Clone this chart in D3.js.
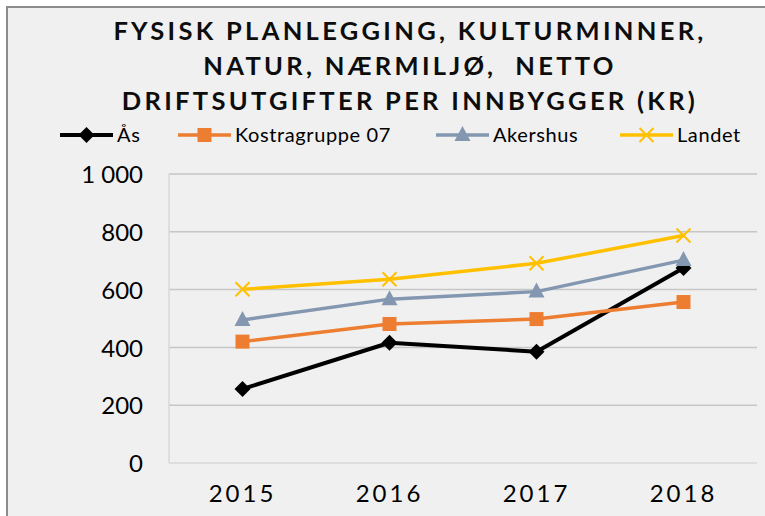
<!DOCTYPE html>
<html>
<head>
<meta charset="utf-8">
<script src="https://d3js.org/d3.v7.min.js"></script>
<style>
  body { margin: 0; background: #fff; }
</style>
</head>
<body>
<div id="chart"></div>
<script>
let years = ["2015", "2016", "2017", "2018"];
let seriesNames = ["Ås", "Kostragruppe 07", "Akershus", "Landet"];
let aas      = [256, 416, 385, 675];
let kostra   = [420, 481, 498, 557];
let akershus = [495, 567, 593, 702];
let landet   = [601, 636, 691, 787];
let yTicks = [0, 200, 400, 600, 800, 1000];
let titleLines = ["FYSISK PLANLEGGING, KULTURMINNER,", "NATUR, NÆRMILJØ,  NETTO", "DRIFTSUTGIFTER PER INNBYGGER (KR)"];

let colors = ["#000000", "#ED7D31", "#8497B0", "#FFC000"];
let markers = ["diamond", "square", "triangle", "cross"];
let values = [aas, kostra, akershus, landet];

let svgWidth = 765, svgHeight = 516;
let margin = {top: 174, left: 169, right: 8, bottom: 53};

let svg = d3.select("#chart").append("svg")
    .attr("width", svgWidth)
    .attr("height", svgHeight)
    .style("font-family", "Lato, 'Open Sans', sans-serif");

// chart area frame
svg.append("rect")
    .attr("x", 7).attr("y", 7)
    .attr("width", 800).attr("height", 600)
    .attr("fill", "#f0f0f0")
    .attr("stroke", "#8c8c8c")
    .attr("stroke-width", 2);

let x = d3.scaleBand().domain(years).range([margin.left, svgWidth - margin.right]);
let y = d3.scaleLinear().domain([0, 1000]).range([svgHeight - margin.bottom, margin.top]);

// gridlines
svg.append("g").selectAll("line")
    .data(yTicks)
    .enter().append("line")
    .attr("x1", margin.left).attr("x2", svgWidth - margin.right)
    .attr("y1", d => y(d)).attr("y2", d => y(d))
    .attr("stroke", d => d === 0 ? "#d9d9d9" : "#c6c6c6")
    .attr("stroke-width", 1.5);

svg.append("line")
    .attr("x1", margin.left).attr("x2", margin.left)
    .attr("y1", y(1000)).attr("y2", y(0))
    .attr("stroke", "#d9d9d9").attr("stroke-width", 1.5);

// y axis labels
let fmt = d => d3.format(",")(d).replace(",", " ");
let yAxis = d3.axisLeft(y).tickValues(yTicks).tickFormat(fmt).tickSize(0).tickPadding(26);
let ya = svg.append("g")
    .attr("transform", "translate(" + margin.left + ",0)")
    .call(yAxis);
ya.select(".domain").remove();
ya.selectAll("text")
    .attr("font-family", "Lato, sans-serif")
    .attr("font-size", 24)
    .attr("fill", "#000")
    .attr("dy", "0.36em");

// x axis labels
let xAxis = d3.axisBottom(x).tickSize(0).tickPadding(22);
let xa = svg.append("g")
    .attr("transform", "translate(0," + y(0) + ")")
    .call(xAxis);
xa.select(".domain").remove();
xa.selectAll("text")
    .attr("font-family", "Lato, sans-serif")
    .attr("font-size", 24)
    .attr("letter-spacing", "3px")
    .attr("fill", "#000");

// title
svg.append("g").selectAll("text")
    .data(titleLines)
    .enter().append("text")
    .attr("x", 410)
    .attr("y", (d, i) => 40 + i * 35)
    .attr("text-anchor", "middle")
    .attr("font-family", "Lato, sans-serif")
    .attr("font-weight", "bold")
    .attr("font-size", 25.5)
    .attr("letter-spacing", "3.3px")
    .attr("fill", "#0d0d0d")
    .style("white-space", "pre")
    .text(d => d);

function drawMarker(g, type, color) {
    if (type === "diamond") {
        g.append("path").attr("d", "M0,-8L8,0L0,8L-8,0Z").attr("fill", color);
    } else if (type === "square") {
        g.append("rect").attr("x", -7).attr("y", -7).attr("width", 14).attr("height", 14).attr("fill", color);
    } else if (type === "triangle") {
        g.append("path").attr("d", "M0,-9L8,6L-8,6Z").attr("fill", color);
    } else {
        g.append("path").attr("d", "M-7,-7L7,7M-7,7L7,-7").attr("stroke", color).attr("stroke-width", 2).attr("fill", "none");
    }
}

let line = d3.line()
    .x((d, i) => x(years[i]) + x.bandwidth() / 2)
    .y(d => y(d));

// series
values.forEach(function(vals, s) {
    svg.append("path")
        .datum(vals)
        .attr("d", line)
        .attr("fill", "none")
        .attr("stroke", colors[s])
        .attr("stroke-width", s === 0 ? 4 : 3.5)
        .attr("stroke-linejoin", "round");
});
values.forEach(function(vals, s) {
    svg.append("g").selectAll("g")
        .data(vals)
        .enter().append("g")
        .attr("transform", (d, i) => "translate(" + (x(years[i]) + x.bandwidth() / 2) + "," + y(d) + ")")
        .each(function() { drawMarker(d3.select(this), markers[s], colors[s]); });
});

// legend
let legendX = [60, 178, 436, 620];
let legend = svg.append("g").selectAll("g")
    .data(seriesNames)
    .enter().append("g")
    .attr("transform", (d, i) => "translate(" + legendX[i] + ",135)");
legend.append("line")
    .attr("x1", 0).attr("x2", 53)
    .attr("stroke", (d, i) => colors[i])
    .attr("stroke-width", (d, i) => i === 0 ? 4 : 3.5);
legend.each(function(d, i) {
    let g = d3.select(this).append("g").attr("transform", "translate(26.5,0)");
    drawMarker(g, markers[i], colors[i]);
});
legend.append("text")
    .attr("x", 57)
    .attr("dy", "0.36em")
    .attr("font-family", "Lato, sans-serif")
    .attr("font-size", 20)
    .attr("letter-spacing", "0.6px")
    .attr("fill", "#000")
    .text(d => d);
</script>
</body>
</html>
